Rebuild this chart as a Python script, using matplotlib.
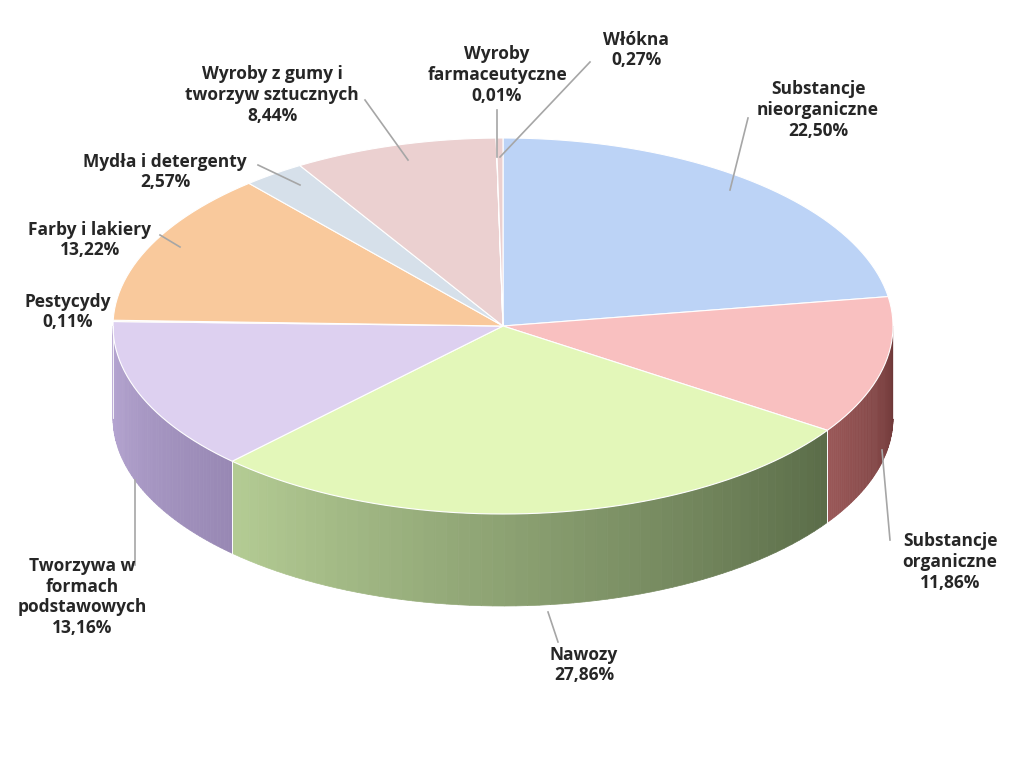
import numpy as np
import matplotlib
matplotlib.use("Agg")
import matplotlib.pyplot as plt
from matplotlib.patches import Polygon
from matplotlib.colors import to_rgb

labels = ["Substancje\nnieorganiczne", "Substancje\norganiczne", "Nawozy",
          "Tworzywa w\nformach\npodstawowych", "Pestycydy", "Farby i lakiery",
          "Mydła i detergenty", "Wyroby z gumy i\ntworzyw sztucznych",
          "Wyroby\nfarmaceutyczne", "Włókna"]
values = [22.50, 11.86, 27.86, 13.16, 0.11, 13.22, 2.57, 8.44, 0.01, 0.27]
value_text = ["22,50%", "11,86%", "27,86%", "13,16%", "0,11%", "13,22%",
              "2,57%", "8,44%", "0,01%", "0,27%"]
top_colors = ["#bcd3f6", "#f9c0c0", "#e3f7b9", "#ddd0f0", "#f9c99c", "#f9c99c",
              "#d6e0ea", "#ebd0d0", "#ebd0d0", "#ebd0d0"]
side_light = ["#a0b8dc", "#9a5858", "#b4cc94", "#b8a8d4", "#d0a07a", "#d0a07a",
              "#b0bac5", "#c0a4a4", "#c0a4a4", "#c0a4a4"]
side_dark = ["#7f95b8", "#6e3838", "#5a6c48", "#9888b4", "#a07050", "#a07050",
             "#8a949f", "#907474", "#907474", "#907474"]
label_pos = [(818, 110), (950, 562), (584, 665), (82, 597), (68, 312), (90, 240),
             (165, 172), (272, 95), (497, 75), (636, 50)]
lead = [((730, 190), (748, 118)), ((882, 450), (890, 540)), ((548, 612), (558, 642)),
        ((135, 480), (135, 565)), None, ((180, 247), (160, 235)),
        ((300, 185), (258, 165)), ((408, 160), (365, 100)), ((497, 157), (497, 110)),
        ((500, 157), (590, 62))]

fig = plt.figure(figsize=(10.24, 7.78), dpi=100)
ax = fig.add_axes([0, 0, 1, 1])
ax.set_xlim(0, 1024)
ax.set_ylim(778, 0)
ax.axis("off")

cx, cy, rx, ry, depth = 503, 326, 390, 188, 92

def pt(t):
    return cx + rx * np.cos(t), cy - ry * np.sin(t)

fr = np.array(values) / sum(values)
starts = np.pi / 2 - 2 * np.pi * np.concatenate([[0], np.cumsum(fr)[:-1]])
ends = starts - 2 * np.pi * fr

# sides (front half) with horizontal gradient
for i in range(len(values)):
    a0, a1 = ends[i], starts[i]
    c0, c1 = np.array(to_rgb(side_light[i])), np.array(to_rgb(side_dark[i]))
    for shift in (0, 2 * np.pi, -2 * np.pi):
        lo, hi = max(a0 + shift, -np.pi), min(a1 + shift, 0)
        if hi > lo:
            t = np.linspace(lo, hi, 60)
            xs, ys = pt(t)
            for k in range(len(t) - 1):
                f = (k + 0.5) / (len(t) - 1)
                col = c0 * (1 - f) + c1 * f
                poly = [(xs[k], ys[k]), (xs[k + 1], ys[k + 1]),
                        (xs[k + 1], ys[k + 1] + depth), (xs[k], ys[k] + depth)]
                ax.add_patch(Polygon(poly, closed=True, fc=col, ec=col, lw=0.5))
            ax.plot([xs[0], xs[0]], [ys[0], ys[0] + depth], color="white", lw=0.6)
            ax.plot([xs[-1], xs[-1]], [ys[-1], ys[-1] + depth], color="white", lw=0.6)

# tops
for i in range(len(values)):
    t = np.linspace(ends[i], starts[i], max(3, int(200 * fr[i]) + 3))
    xs, ys = pt(t)
    poly = [(cx, cy)] + list(zip(xs, ys))
    ax.add_patch(Polygon(poly, closed=True, fc=top_colors[i], ec="white", lw=0.8))

for i in range(len(values)):
    if lead[i]:
        (x0, y0), (x1, y1) = lead[i]
        ax.plot([x0, x1], [y0, y1], color="#a6a6a6", lw=1.2)
    x, y = label_pos[i]
    ax.text(x, y, labels[i] + "\n" + value_text[i], ha="center", va="center",
            fontsize=12.5, fontweight="bold", family="Open Sans", color="#262626",
            linespacing=1.2)

fig.savefig("out.png", dpi=100, facecolor="white")
